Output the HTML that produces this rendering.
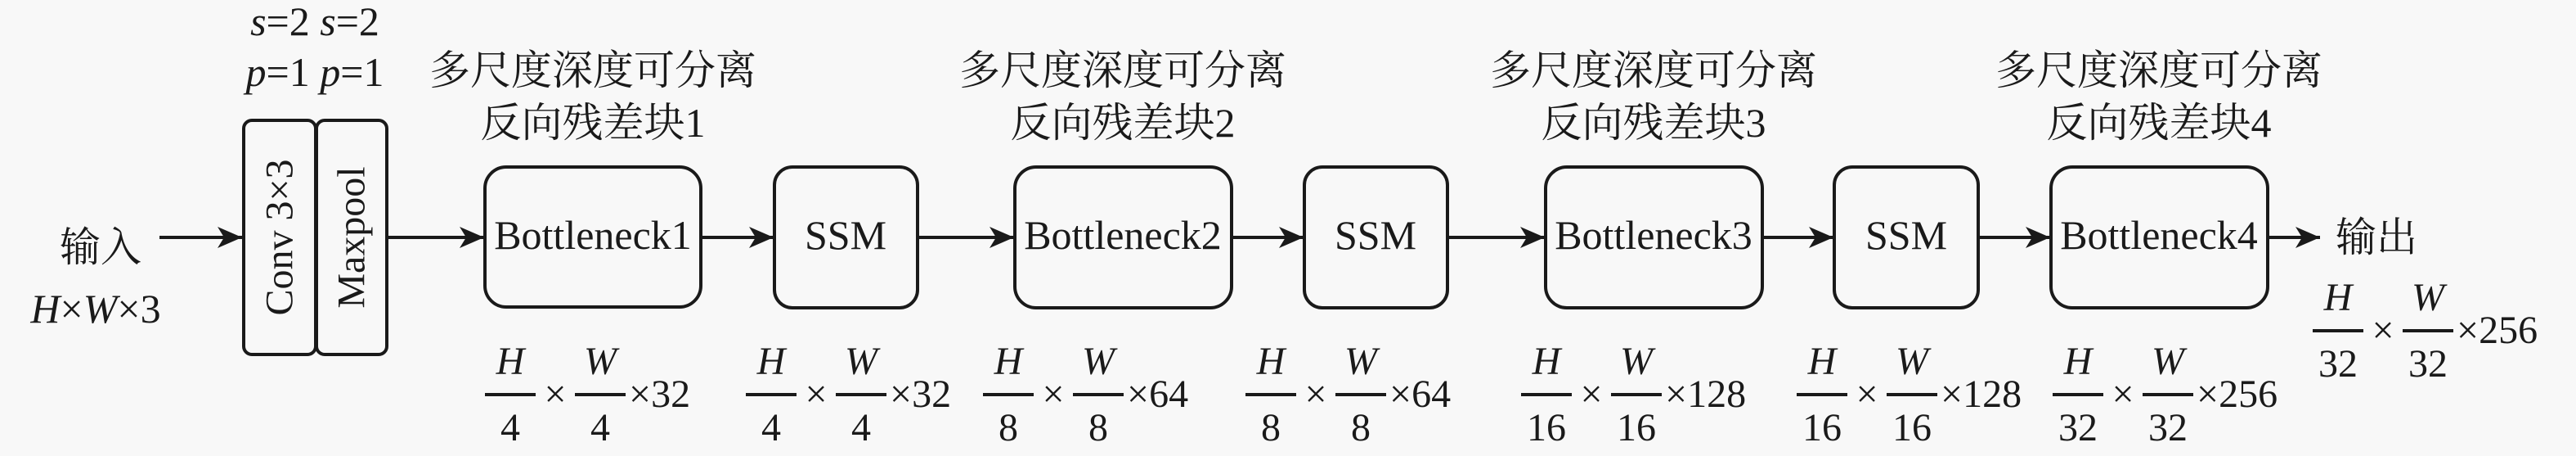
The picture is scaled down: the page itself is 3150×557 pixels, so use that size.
<!DOCTYPE html>
<html><head><meta charset="utf-8"><style>
html,body{margin:0;padding:0;background:#f8f8f8;}
svg{display:block;}
text{font-family:"Liberation Serif","Noto Serif CJK SC",serif;fill:#1a1a1a;}
.cn{font-family:"Liberation Serif","Noto Serif CJK SC","Noto Sans CJK SC",serif;font-size:50px;}
.i{font-style:italic;}
</style></head><body>
<svg width="3150" height="557" viewBox="0 0 3150 557" xmlns="http://www.w3.org/2000/svg">
<defs>
<marker id="ah" markerWidth="32" markerHeight="26" refX="30" refY="13" orient="auto" markerUnits="userSpaceOnUse">
<path d="M0,0 L30,13 L0,26 L8,13 Z" fill="#1a1a1a"/>
</marker>
</defs>
<rect width="3150" height="557" fill="#f8f8f8"/>
<g stroke="#1a1a1a" stroke-width="4" fill="none">
<rect x="298" y="147" width="88" height="286" rx="10"/>
<rect x="387" y="147" width="86" height="286" rx="10"/>
<rect x="593" y="204" width="264" height="171" rx="26"/>
<rect x="947" y="204" width="175" height="172" rx="22"/>
<rect x="1241" y="204" width="265" height="172" rx="26"/>
<rect x="1595" y="204" width="175" height="172" rx="22"/>
<rect x="1890" y="204" width="265" height="172" rx="26"/>
<rect x="2243" y="204" width="176" height="172" rx="22"/>
<rect x="2508" y="204" width="265" height="172" rx="26"/>
</g>
<g stroke="#1a1a1a" stroke-width="4" marker-end="url(#ah)">
<line x1="195" y1="290" x2="296" y2="290"/>
<line x1="473" y1="290" x2="592" y2="290"/>
<line x1="857" y1="290" x2="946" y2="290"/>
<line x1="1122" y1="290" x2="1240" y2="290"/>
<line x1="1506" y1="290" x2="1594" y2="290"/>
<line x1="1770" y1="290" x2="1889" y2="290"/>
<line x1="2155" y1="290" x2="2242" y2="290"/>
<line x1="2419" y1="290" x2="2507" y2="290"/>
<line x1="2773" y1="290" x2="2837" y2="290"/>
</g>
<!-- top params -->
<text x="385" y="43" font-size="50" text-anchor="middle"><tspan class="i">s</tspan>=2 <tspan class="i">s</tspan>=2</text>
<text x="385" y="105" font-size="50" text-anchor="middle"><tspan class="i">p</tspan>=1 <tspan class="i">p</tspan>=1</text>
<text x="342" y="290" font-size="48" text-anchor="middle" dominant-baseline="central" transform="rotate(-90 342 290)">Conv 3×3</text>
<text x="430" y="290" font-size="48" text-anchor="middle" dominant-baseline="central" transform="rotate(-90 430 290)">Maxpool</text>
<text class="cn" x="123" y="319" text-anchor="middle">输入</text>
<text x="117" y="394" font-size="50" text-anchor="middle"><tspan class="i">H</tspan>×<tspan class="i">W</tspan>×3</text>
<text class="cn" x="2906" y="307" text-anchor="middle">输出</text>
<!-- titles -->
<text class="cn" x="725" y="103" text-anchor="middle">多尺度深度可分离</text>
<text class="cn" x="725" y="167" text-anchor="middle">反向残差块1</text>
<text class="cn" x="1373" y="103" text-anchor="middle">多尺度深度可分离</text>
<text class="cn" x="1373" y="167" text-anchor="middle">反向残差块2</text>
<text class="cn" x="2022" y="103" text-anchor="middle">多尺度深度可分离</text>
<text class="cn" x="2022" y="167" text-anchor="middle">反向残差块3</text>
<text class="cn" x="2640" y="103" text-anchor="middle">多尺度深度可分离</text>
<text class="cn" x="2640" y="167" text-anchor="middle">反向残差块4</text>
<!-- box labels -->
<g font-size="50" text-anchor="middle">
<text x="725" y="304">Bottleneck1</text>
<text x="1034" y="304">SSM</text>
<text x="1373" y="304">Bottleneck2</text>
<text x="1682" y="304">SSM</text>
<text x="2022" y="304">Bottleneck3</text>
<text x="2331" y="304">SSM</text>
<text x="2640" y="304">Bottleneck4</text>
</g>
<!-- fractions -->
<g id="f1" transform="translate(593,0)" font-size="48">
<rect x="0" y="480" width="62" height="4" fill="#1a1a1a"/><rect x="110" y="480" width="62" height="4" fill="#1a1a1a"/>
<text x="31" y="457" text-anchor="middle" class="i">H</text><text x="141" y="457" text-anchor="middle" class="i">W</text>
<text x="86" y="497" text-anchor="middle">×</text><text x="176" y="497">×32</text>
<text x="31" y="538" text-anchor="middle">4</text><text x="141" y="538" text-anchor="middle">4</text>
</g>
<g transform="translate(912,0)" font-size="48">
<rect x="0" y="480" width="62" height="4" fill="#1a1a1a"/><rect x="110" y="480" width="62" height="4" fill="#1a1a1a"/>
<text x="31" y="457" text-anchor="middle" class="i">H</text><text x="141" y="457" text-anchor="middle" class="i">W</text>
<text x="86" y="497" text-anchor="middle">×</text><text x="176" y="497">×32</text>
<text x="31" y="538" text-anchor="middle">4</text><text x="141" y="538" text-anchor="middle">4</text>
</g>
<g transform="translate(1202,0)" font-size="48">
<rect x="0" y="480" width="62" height="4" fill="#1a1a1a"/><rect x="110" y="480" width="62" height="4" fill="#1a1a1a"/>
<text x="31" y="457" text-anchor="middle" class="i">H</text><text x="141" y="457" text-anchor="middle" class="i">W</text>
<text x="86" y="497" text-anchor="middle">×</text><text x="176" y="497">×64</text>
<text x="31" y="538" text-anchor="middle">8</text><text x="141" y="538" text-anchor="middle">8</text>
</g>
<g transform="translate(1523,0)" font-size="48">
<rect x="0" y="480" width="62" height="4" fill="#1a1a1a"/><rect x="110" y="480" width="62" height="4" fill="#1a1a1a"/>
<text x="31" y="457" text-anchor="middle" class="i">H</text><text x="141" y="457" text-anchor="middle" class="i">W</text>
<text x="86" y="497" text-anchor="middle">×</text><text x="176" y="497">×64</text>
<text x="31" y="538" text-anchor="middle">8</text><text x="141" y="538" text-anchor="middle">8</text>
</g>
<g transform="translate(1860,0)" font-size="48">
<rect x="0" y="480" width="62" height="4" fill="#1a1a1a"/><rect x="110" y="480" width="62" height="4" fill="#1a1a1a"/>
<text x="31" y="457" text-anchor="middle" class="i">H</text><text x="141" y="457" text-anchor="middle" class="i">W</text>
<text x="86" y="497" text-anchor="middle">×</text><text x="176" y="497">×128</text>
<text x="31" y="538" text-anchor="middle">16</text><text x="141" y="538" text-anchor="middle">16</text>
</g>
<g transform="translate(2197,0)" font-size="48">
<rect x="0" y="480" width="62" height="4" fill="#1a1a1a"/><rect x="110" y="480" width="62" height="4" fill="#1a1a1a"/>
<text x="31" y="457" text-anchor="middle" class="i">H</text><text x="141" y="457" text-anchor="middle" class="i">W</text>
<text x="86" y="497" text-anchor="middle">×</text><text x="176" y="497">×128</text>
<text x="31" y="538" text-anchor="middle">16</text><text x="141" y="538" text-anchor="middle">16</text>
</g>
<g transform="translate(2510,0)" font-size="48">
<rect x="0" y="480" width="62" height="4" fill="#1a1a1a"/><rect x="110" y="480" width="62" height="4" fill="#1a1a1a"/>
<text x="31" y="457" text-anchor="middle" class="i">H</text><text x="141" y="457" text-anchor="middle" class="i">W</text>
<text x="86" y="497" text-anchor="middle">×</text><text x="176" y="497">×256</text>
<text x="31" y="538" text-anchor="middle">32</text><text x="141" y="538" text-anchor="middle">32</text>
</g>
<g transform="translate(2828,-78)" font-size="48">
<rect x="0" y="480" width="62" height="4" fill="#1a1a1a"/><rect x="110" y="480" width="62" height="4" fill="#1a1a1a"/>
<text x="31" y="457" text-anchor="middle" class="i">H</text><text x="141" y="457" text-anchor="middle" class="i">W</text>
<text x="86" y="497" text-anchor="middle">×</text><text x="176" y="497">×256</text>
<text x="31" y="538" text-anchor="middle">32</text><text x="141" y="538" text-anchor="middle">32</text>
</g>
</svg>
</body></html>
